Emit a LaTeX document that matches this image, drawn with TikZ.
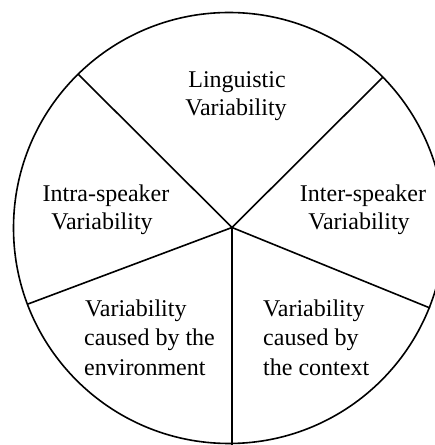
\documentclass[tikz,border=0pt]{standalone}
\usepackage{fontspec}
\setmainfont{Liberation Serif}
\begin{document}
\begin{tikzpicture}[x=1pt,y=1pt,
  sector/.style={line width=1.6pt,black},
  lbl/.style={inner sep=0pt,font=\fontsize{24}{28}\selectfont},
  lblc/.style={lbl,anchor=base},
  lbll/.style={lbl,anchor=base west}]
\useasboundingbox (0,0) rectangle (435,445);
\clip (0,0) rectangle (435,445);
\coordinate (o) at (229,217);
\draw[sector] (o) circle[radius=215.5];
\coordinate (c) at (232,217.5);
\coordinate (p1) at (383,368);
\coordinate (p2) at (78,371);
\coordinate (p3) at (28,141);
\coordinate (p4) at (232,-5);
\coordinate (p5) at (430,137);
\foreach \n in {p1,p2,p3,p4,p5}
  \draw[sector] (c) -- (\n);
\node[lblc] (ling1) at (237,357) {Linguistic};
\node[lblc] (ling2) at (236,329) {Variability};
\node[lblc] (intra1) at (106,243) {Intra-speaker};
\node[lblc] (intra2) at (102,215) {Variability};
\node[lblc] (inter1) at (363,243) {Inter-speaker};
\node[lblc] (inter2) at (359,215) {Variability};
\node[lbll] (env1) at (85,128.5) {Variability};
\node[lbll] (env2) at (84,99) {caused by the};
\node[lbll] (env3) at (84,69.5) {environment};
\node[lbll] (ctx1) at (263,128.5) {Variability};
\node[lbll] (ctx2) at (263,99) {caused by};
\node[lbll] (ctx3) at (263,69.5) {the context};
\end{tikzpicture}
\end{document}
